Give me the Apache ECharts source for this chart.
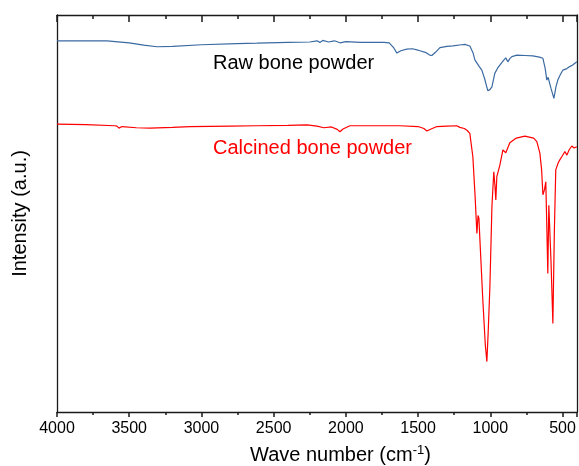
<!DOCTYPE html>
<html>
<head>
<meta charset="utf-8">
<script src="https://cdn.jsdelivr.net/npm/echarts@6/dist/echarts.min.js"></script>
<style>
  html, body { margin: 0; padding: 0; background: #fff; }
  #chart { width: 579px; height: 466px; }
</style>
</head>
<body>
<div id="chart"></div>
<script>
// raw bone powder (wavenumber, intensity a.u.)
const rawWave = [4000, 3800, 3654, 3500, 3400, 3308, 3200, 3000, 2754, 2616, 2400, 2250, 2200, 2180, 2160, 2120, 2080, 2040, 2000, 1900, 1800, 1737, 1700, 1670, 1647, 1620, 1578, 1540, 1508, 1488, 1450, 1420, 1405, 1380, 1349, 1300, 1259, 1200, 1176, 1142, 1120, 1107, 1080, 1059, 1040, 1017, 1003, 989, 969, 950, 934, 910, 893, 879, 865, 851, 816, 760, 706, 660, 636, 620, 609, 600, 595, 580, 560, 545, 533, 515, 498, 470, 450, 430, 401];
const rawVal = [93.5, 93.5, 93.5, 93.0, 92.4, 92.0, 92.1, 92.5, 92.8, 92.9, 93.1, 93.2, 93.5, 93.1, 93.6, 93.2, 93.5, 93.0, 93.3, 93.1, 93.1, 93.1, 93.0, 91.8, 90.4, 91.0, 91.4, 91.5, 91.2, 91.0, 90.6, 89.9, 89.8, 90.6, 91.8, 92.1, 92.2, 92.5, 92.6, 92.2, 90.5, 88.7, 87.2, 86.1, 84.0, 80.9, 81.2, 81.9, 85.3, 86.6, 87.4, 88.5, 89.2, 88.2, 89.0, 89.5, 89.9, 89.8, 89.7, 89.4, 89.1, 86.5, 83.6, 84.3, 84.1, 81.5, 79.0, 82.0, 83.6, 85.0, 86.1, 86.5, 87.0, 87.4, 88.2];

// calcined bone powder
const calWave = [4000, 3800, 3600, 3585, 3571, 3550, 3450, 3356, 3200, 3080, 2800, 2616, 2400, 2270, 2200, 2152, 2100, 2060, 2041, 2020, 1972, 1800, 1626, 1500, 1460, 1439, 1410, 1370, 1300, 1232, 1211, 1180, 1160, 1142, 1121, 1105, 1093, 1085, 1079, 1072, 1052, 1035, 1024, 1015, 1003, 989, 976, 968, 962, 955, 934, 913, 893, 865, 820, 761, 700, 678, 657, 645, 636, 625, 616, 608, 602, 598, 595, 580, 567, 557, 547, 530, 519, 500, 484, 470, 455, 436, 420, 401];
const calVal = [72.5, 72.4, 72.1, 72.0, 71.5, 71.9, 71.6, 71.5, 71.7, 71.9, 72.0, 72.1, 72.2, 72.3, 72.0, 71.6, 71.8, 71.2, 70.6, 71.3, 72.1, 72.1, 72.1, 71.9, 71.4, 70.8, 71.3, 71.9, 72.0, 72.1, 71.7, 71.4, 70.9, 70.2, 64.3, 54.0, 45.0, 49.5, 48.8, 43.3, 28.2, 17.0, 12.7, 20.0, 31.6, 51.7, 60.5, 57.0, 53.4, 59.3, 62.2, 66.0, 65.3, 67.8, 69.0, 69.5, 69.0, 68.1, 65.2, 61.0, 54.7, 56.0, 58.0, 45.0, 34.9, 45.0, 52.1, 38.0, 22.3, 45.0, 61.0, 62.8, 63.5, 64.6, 65.6, 64.7, 66.0, 67.0, 66.5, 66.8];

const xTicks = [500, 1000, 1500, 2000, 2500, 3000, 3500, 4000];

const pairs = (xs, ys) => xs.map((x, i) => [x, ys[i]]);
const ink = '#1a1a1a';
const frame = () => ({show: true, onZero: false, lineStyle: {color: ink, width: 1.3}});
const font = 'Arial, "Liberation Sans", sans-serif';

const option = {
    animation: false,
    backgroundColor: '#fff',
    grid: {left: 57, right: 2, top: 15, bottom: 54, containLabel: false},
    xAxis: [
        {
            type: 'value',
            position: 'bottom',
            inverse: true,
            min: 400,
            max: 4000,
            splitNumber: 7,
            axisLine: frame(),
            axisTick: {show: true, inside: false, length: 5, lineStyle: {color: ink, width: 1.5}},
            minorTick: {show: true, splitNumber: 2, length: 3, lineStyle: {color: ink, width: 1.5}},
            splitLine: {show: false},
            axisLabel: {
                margin: 9,
                color: '#000',
                fontSize: 16,
                fontFamily: font,
                showMinLabel: false,
                formatter: v => xTicks.includes(Number(v)) ? String(v) : ''
            }
        },
        {
            type: 'value',
            position: 'top',
            inverse: true,
            min: 400,
            max: 4000,
            splitNumber: 7,
            axisLine: frame(),
            axisTick: {show: true, inside: true, length: 7, lineStyle: {color: ink, width: 1.5}},
            minorTick: {show: true, splitNumber: 2, length: 4, lineStyle: {color: ink, width: 1.5}},
            splitLine: {show: false},
            axisLabel: {show: false}
        }
    ],
    yAxis: [
        {
            type: 'value',
            position: 'left',
            min: 0,
            max: 100,
            axisLine: frame(),
            axisTick: {show: false},
            axisLabel: {show: false},
            splitLine: {show: false},
            name: 'Intensity (a.u.)',
            nameLocation: 'middle',
            nameGap: 27,
            nameTextStyle: {color: '#000', fontSize: 20, fontFamily: font}
        },
        {
            type: 'value',
            position: 'right',
            min: 0,
            max: 100,
            axisLine: frame(),
            axisTick: {show: false},
            axisLabel: {show: false},
            splitLine: {show: false}
        }
    ],
    graphic: [
        {
            type: 'text', left: 250, top: 444,
            style: {
                text: '{n|Wave number (cm}{s|-1}{n|)}',
                rich: {
                    n: {fontSize: 20, fontFamily: font, fill: '#000'},
                    s: {fontSize: 13, fontFamily: font, fill: '#000', verticalAlign: 'top', padding: [0, 0, 9, 0]}
                }
            }
        },
        {
            type: 'text', left: 213, top: 53,
            style: {text: 'Raw bone powder', fontSize: 20, fontFamily: font, fill: '#000'}
        },
        {
            type: 'text', left: 213, top: 138,
            style: {text: 'Calcined bone powder', fontSize: 20, fontFamily: font, fill: '#ff0000'}
        }
    ],
    series: [
        {
            name: 'Raw bone powder',
            type: 'line',
            xAxisIndex: 0,
            yAxisIndex: 0,
            showSymbol: false,
            symbol: 'none',
            lineStyle: {color: '#3a6aa2', width: 1.2},
            data: pairs(rawWave, rawVal)
        },
        {
            name: 'Calcined bone powder',
            type: 'line',
            xAxisIndex: 0,
            yAxisIndex: 0,
            showSymbol: false,
            symbol: 'none',
            lineStyle: {color: '#ff0000', width: 1.2},
            data: pairs(calWave, calVal)
        }
    ]
};

const chart = echarts.init(document.getElementById('chart'));
chart.setOption(option);
</script>
</body>
</html>
